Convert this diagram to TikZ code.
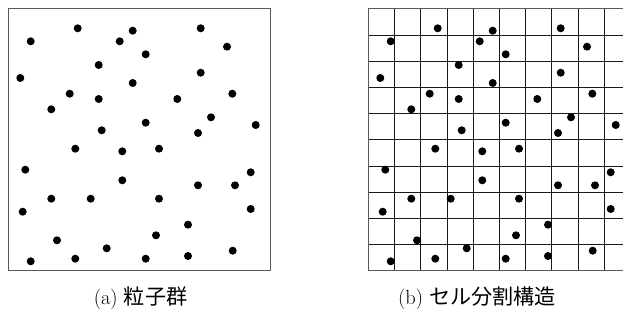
\documentclass[tikz,border=0pt]{standalone}
\usepackage{fontspec}
\newfontfamily\jpfont{Noto Sans CJK JP}[Scale=1.03]
\begin{document}
\begin{tikzpicture}[x=1pt,y=1pt,
  frame/.style={draw=black!65,line width=1pt},
  gridline/.style={draw=black!90,line width=0.8pt},
  dot/.style={fill=black},
  caption/.style={font=\fontsize{20.5}{24}\selectfont, inner sep=0pt}]
\useasboundingbox (0,0) rectangle (623,327);
\clip (0,0) rectangle (623,327);
% left square
\draw[frame] (8.5,56.3) rectangle (270.5,318);
% right grid
\foreach \i in {1,...,9} {
  \draw[gridline] ({368.3+26.2*\i},56.3) -- ({368.3+26.2*\i},318);
  \draw[gridline] (368.3,{56.3+26.17*\i}) -- (630.3,{56.3+26.17*\i});
}
\draw[frame] (368.3,56.3) rectangle (630.3,318);
% dots
\foreach \x/\y in {77.7/28.3,132.7/30.7,200.7/28.3,30.7/41.3,119.7/41.3,227/46.7,145.7/54.3,98.7/65,20.3/78,200.7/72.7,132.7/83,69.7/93.7,98.7/99,177.3/99,232.3/93.7,51.3/109.3,211/117.3,145.7/122.7,255.7/125,101.7/130.3,198/133,75.3/148.7,122.3/151.3,159/148.7,25.3/169.7,250.7/172.3,122.3/180.3,198/185.3,235/185.3,51.3/198.7,90.7/198.7,159/198.7,22.7/211.7,250.7/209,188/224.7,57/240.3,156/235.3,106.7/248.3,232.7/250.7,30.7/261.3,75.3/258.7,145.7/258.7,188/256} {
  \fill[dot] (\x,327-\y) circle (4);
  \fill[dot] (\x+360,327-\y) circle (4);
}
% captions
\node[caption] (capa) at (140.5,28.5) {(a) {\jpfont 粒子群}};
\node[caption] (capb) at (477,28.5) {(b) {\jpfont セル分割構造}};
\end{tikzpicture}
\end{document}
